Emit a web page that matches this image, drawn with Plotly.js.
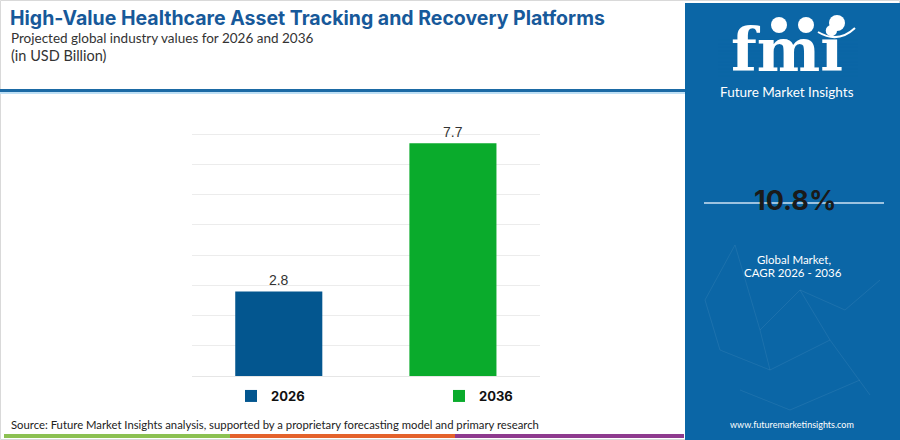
<!DOCTYPE html>
<html>
<head>
<meta charset="utf-8">
<script src="https://cdn.plot.ly/plotly-3.0.1.min.js"></script>
<style>
html,body{margin:0;padding:0;background:#fff;}
#chart{width:900px;height:440px;}
</style>
</head>
<body>
<div id="chart"></div>
<script>
// ---- data ----
const years = ["2026", "2036"];
const values = [2.8, 7.7];
const valueLabels = ["2.8", "7.7"];
const barColors = ["#03568f", "#0aab2c"];
const cagrText = "10.8%";
const titleText = "High-Value Healthcare Asset Tracking and Recovery Platforms";
const subtitleText = "Projected global industry values for 2026 and 2036";
const unitText = "(in USD Billion)";
const sourceText = "Source: Future Market Insights analysis, supported by a proprietary forecasting model and primary research";

const W = 900, H = 440;
const px = x => x / W;
const py = y => 1 - y / H;

const traces = years.map((yr, i) => ({
  type: "bar",
  name: yr,
  x: [yr],
  y: [values[i]],
  text: [valueLabels[i]],
  textposition: "outside",
  textfont: {family: "Liberation Sans, Arial, sans-serif", size: 14, color: "#333"},
  cliponaxis: false,
  marker: {color: barColors[i]},
  width: 0.5,
  hoverinfo: "skip"
}));

const panelBlue = "#0b66a6";

const shapes = [
  // outer light border
  {type:"rect", xref:"paper", yref:"paper", x0:px(0.5), x1:px(899.5), y0:py(439.5), y1:py(0.5), line:{color:"#d9d9d9", width:1}, layer:"below"},
  // header underline
  {type:"rect", xref:"paper", yref:"paper", x0:0, x1:px(685), y0:py(92), y1:py(89), fillcolor:"#1b6aa5", line:{width:0}},
  {type:"rect", xref:"paper", yref:"paper", x0:0, x1:px(685), y0:py(94), y1:py(92), fillcolor:"#bfe0f5", line:{width:0}},
  // right panel
  {type:"rect", xref:"paper", yref:"paper", x0:px(685), x1:1, y0:0, y1:py(3), fillcolor:panelBlue, line:{width:0}, layer:"below"},
  // CAGR line
  {type:"line", xref:"paper", yref:"paper", x0:px(704), x1:px(884), y0:py(203), y1:py(203), line:{color:"#cfe3f3", width:1.5}, layer:"below"},
  // logo circles
  {type:"circle", xref:"paper", yref:"paper", x0:px(771), x1:px(787), y0:py(33), y1:py(17), fillcolor:"#ffffff", line:{width:0}},
  {type:"circle", xref:"paper", yref:"paper", x0:px(798), x1:px(814), y0:py(33), y1:py(17), fillcolor:"#ffffff", line:{width:0}},
  {type:"circle", xref:"paper", yref:"paper", x0:px(829), x1:px(845), y0:py(31), y1:py(15), fillcolor:"#ffffff", line:{width:0}},
  {type:"path", xref:"paper", yref:"paper", path:"M " + px(818) + " " + py(32) + " Q " + px(838) + " " + py(44) + " " + px(855) + " " + py(28), line:{color:"#ffffff", width:2}},
  // bottom colour strip
  {type:"rect", xref:"paper", yref:"paper", x0:px(4), x1:px(230), y0:py(438), y1:py(434), fillcolor:"#8cc152", line:{width:0}},
  {type:"rect", xref:"paper", yref:"paper", x0:px(230), x1:px(455), y0:py(438), y1:py(434), fillcolor:"#e4622c", line:{width:0}},
  {type:"rect", xref:"paper", yref:"paper", x0:px(455), x1:px(684), y0:py(438), y1:py(434), fillcolor:"#8e3a8e", line:{width:0}}
];

// stripes across the logo letters
for (let y = 40; y <= 76; y += 3.6) {
  shapes.push({type:"line", xref:"paper", yref:"paper", x0:px(718), x1:px(858), y0:py(y), y1:py(y), line:{color:"rgba(11,102,166,0.55)", width:1}});
}

// faint network lines in the panel
const net = [[705,300,735,245],[735,245,760,330],[760,330,800,290],[800,290,845,310],[845,310,880,280],[720,350,770,370],[770,370,830,340],[830,340,870,395],[740,390,790,410],[790,410,860,380],[760,330,770,370],[800,290,830,340],[705,300,720,350]];
net.forEach(s => shapes.push({type:"line", xref:"paper", yref:"paper", x0:px(s[0]), y0:py(s[1]), x1:px(s[2]), y1:py(s[3]), line:{color:"rgba(255,255,255,0.07)", width:1}, layer:"below"}));

const ann = (x, y, text, opts) => Object.assign({xref:"paper", yref:"paper", x:px(x), y:py(y), text:text, showarrow:false, xanchor:"left", yanchor:"middle", borderpad:0}, opts);

const annotations = [
  ann(9, 18, "<b>" + titleText + "</b>", {font:{family:"Inter, sans-serif", size:19.5, color:"#17599a"}}),
  ann(10, 38, subtitleText, {font:{family:"Lato, sans-serif", size:13.5, color:"#333"}}),
  ann(10, 55, unitText, {font:{family:"Lato, sans-serif", size:14.5, color:"#333"}}),
  ann(787, 50, "<b>fmi</b>", {xanchor:"center", font:{family:"DejaVu Serif, serif", size:60, color:"#ffffff"}}),
  ann(787, 92, "Future Market Insights", {xanchor:"center", font:{family:"Lato, sans-serif", size:13.5, color:"#ffffff"}}),
  ann(795, 200, "<b>" + cagrText + "</b>", {xanchor:"center", font:{family:"Inter, sans-serif", size:27, color:"#1a1a1a"}}),
  ann(794, 259, "Global Market,", {xanchor:"center", font:{family:"Lato, sans-serif", size:11.5, color:"#ffffff"}}),
  ann(793, 272, "CAGR 2026 - 2036", {xanchor:"center", font:{family:"Lato, sans-serif", size:11.5, color:"#ffffff"}}),
  ann(792, 424, "www.futuremarketinsights.com", {xanchor:"center", font:{family:"Lato, sans-serif", size:9, color:"#ffffff"}}),
  ann(10, 424, sourceText, {font:{family:"Lato, sans-serif", size:11.3, color:"#222"}})
];

const layout = {
  width: W, height: H,
  margin: {l:0, r:0, t:0, b:0},
  paper_bgcolor: "#ffffff",
  plot_bgcolor: "#ffffff",
  barmode: "overlay",
  showlegend: true,
  legend: {
    orientation: "h",
    x: px(231), xanchor: "left",
    y: py(396), yanchor: "middle",
    entrywidth: 163, entrywidthmode: "pixels",
    font: {family: "Inter, sans-serif", size: 13, color: "#111", weight: "bold"},
    bgcolor: "rgba(0,0,0,0)",
    itemclick: false
  },
  xaxis: {
    domain: [px(191.7), px(540)],
    type: "category",
    showticklabels: false,
    showgrid: false,
    zeroline: false,
    showline: false,
    fixedrange: true
  },
  yaxis: {
    domain: [py(376), py(104)],
    range: [0, 9],
    dtick: 1,
    showticklabels: false,
    showgrid: true,
    gridcolor: "#ececec",
    gridwidth: 1,
    zeroline: true,
    zerolinecolor: "#e6e6e6",
    showline: false,
    fixedrange: true
  },
  shapes: shapes,
  annotations: annotations
};

Plotly.newPlot("chart", traces, layout, {displayModeBar: false, staticPlot: true});
</script>
</body>
</html>
